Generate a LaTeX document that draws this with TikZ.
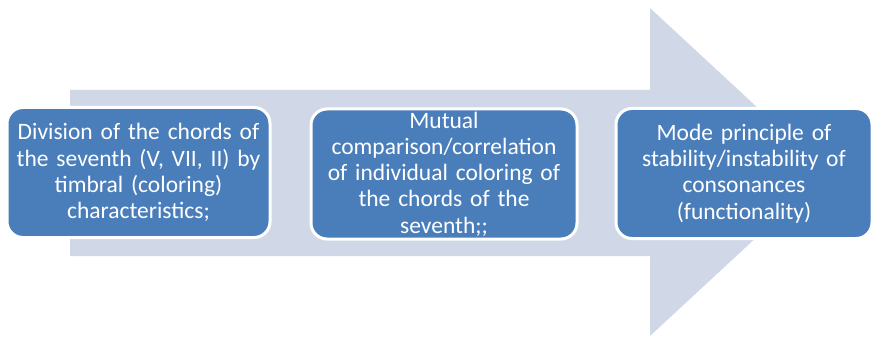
\documentclass[tikz,border=0pt]{standalone}
\usepackage{fontspec}
\setmainfont{Carlito}
\definecolor{arrowfill}{HTML}{D0D8E8}
\definecolor{boxfill}{HTML}{4A7EBB}
\begin{document}
\begin{tikzpicture}[x=1pt,y=-1pt,
  stage/.style={draw=white, line width=3pt, fill=boxfill, rounded corners=16pt,
    text=white, align=center, inner sep=0pt, minimum height=130pt,
    font=\fontsize{23.5}{26.3}\selectfont}]
\useasboundingbox (0,0) rectangle (871,337);
\fill[arrowfill] (70,90) -- (650,90) -- (650,8) -- (827,172) -- (650,336) -- (650,256) -- (70,256) -- cycle;
\node[stage, minimum width=263pt, text width=255pt] (s1) at (138.5,172.5)
  {Division of the chords of\\the seventh (V, VII, II) by\\timbral (coloring)\\characteristics;};
\node[stage, minimum width=266pt, text width=255pt] (s2) at (444,174)
  {Mutual\\comparison/correlation\\of individual coloring of\\the chords of the\\seventh;;};
\node[stage, minimum width=256pt, text width=245pt] (s3) at (744,173.5)
  {Mode principle of\\stability/instability of\\consonances\\(functionality)};
\end{tikzpicture}
\end{document}
